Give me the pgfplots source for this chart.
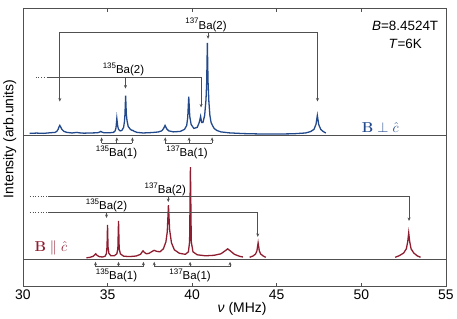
\documentclass[border=0pt]{standalone}
\usepackage[no-math]{fontspec}
\setmainfont{Liberation Sans}
\usepackage{pgfplots}
\pgfplotsset{compat=1.18}
\usetikzlibrary{arrows.meta}

\definecolor{specblue}{HTML}{22498C}
\definecolor{specred}{HTML}{8E1D30}
\definecolor{anno}{HTML}{505050}

% isotope label, e.g. ^{137}Ba(2)
\newcommand{\iso}[2]{\raisebox{0.45em}{\fontsize{8}{8}\selectfont #1}Ba(#2)}

\tikzset{
  ann/.style={draw=anno, line width=0.7pt},
  arr/.style={ann, -{Stealth[length=3.5pt,width=3pt]}},
  lab/.style={font=\fontsize{11.5}{13}\selectfont, inner sep=1pt},
}

\begin{document}
\begin{tikzpicture}
\begin{axis}[
    width=425pt, height=280pt, scale only axis,
    xmin=30, xmax=55, ymin=0, ymax=280,
    xtick={30,35,...,55}, ytick=\empty,
    tick align=inside, xtick pos=both, xticklabel pos=bottom,
    major tick length=4pt,
    tick style={anno, line width=0.8pt},
    axis line style={anno, line width=0.8pt},
    ticklabel style={font=\fontsize{14}{16}\selectfont},
    /pgf/number format/assume math mode=true,
    xlabel={\textit{ν} (MHz)},
    ylabel={Intensity (arb.units)},
    label style={font=\fontsize{14}{16}\selectfont},
    xlabel style={at={(axis description cs:0.518,-0.079)}, anchor=center},
    ylabel style={at={(axis description cs:-0.031,0.53)}, anchor=center},
    clip=false,
]

% baselines
\draw[ann] (30,152) -- (55,152);
\draw[ann] (30,27) -- (55,27);

% B perp c spectrum
\addplot[specblue, line width=1.3pt] coordinates {
(30.40,154.0) (30.80,154.3) (31.20,154.0) (31.60,154.6) (31.90,155.0)
(32.00,156.0) (32.08,158.0) (32.13,160.5) (32.18,162.0) (32.23,160.5)
(32.30,158.0) (32.42,156.0) (32.60,155.0) (32.90,154.4) (33.10,154.8)
(33.20,155.0) (33.30,154.6) (33.60,154.2) (34.00,154.4) (34.40,154.6)
(34.52,155.2) (34.60,156.0) (34.68,155.2) (34.80,154.6) (35.10,154.6)
(35.35,155.0) (35.45,156.5) (35.50,159.5) (35.55,169.0) (35.60,161.5)
(35.65,158.0) (35.75,156.5) (35.85,157.0) (35.95,160.0) (36.00,166.0)
(36.03,173.0) (36.07,192.0) (36.11,173.5) (36.15,167.0) (36.22,161.0)
(36.35,158.0) (36.45,157.0) (36.50,157.0) (36.58,156.0) (36.75,155.0)
(37.10,154.4) (37.60,154.8) (38.00,155.4) (38.20,156.5) (38.30,158.5)
(38.40,162.0) (38.50,158.5) (38.62,156.5) (38.90,155.5) (39.30,156.0)
(39.55,158.0) (39.68,162.0) (39.74,170.0) (39.80,191.0) (39.86,171.0)
(39.94,163.0) (40.10,159.0) (40.30,160.0) (40.40,164.0) (40.45,167.0)
(40.50,171.0) (40.56,165.0) (40.64,165.0) (40.74,172.0) (40.82,188.0)
(40.86,205.0) (40.90,245.0) (40.94,206.0) (40.99,186.0) (41.05,172.0)
(41.12,165.0) (41.20,162.0) (41.30,159.0) (41.45,157.0) (41.70,155.5)
(42.20,154.5) (43.00,153.8) (44.00,153.4) (45.00,153.3) (46.00,153.6)
(46.70,154.4) (47.00,155.8) (47.20,158.0) (47.32,163.0) (47.40,172.0)
(47.48,163.0) (47.60,158.0) (47.75,155.8) (47.90,154.4)
};

% B parallel c spectrum
\addplot[specred, line width=1.3pt] coordinates {
(33.75,29.0) (33.95,29.4) (34.15,30.5) (34.25,32.0) (34.30,33.0)
(34.38,31.5) (34.50,30.2) (34.70,29.8) (34.85,30.5) (34.93,33.0)
(34.97,40.0) (35.00,62.0) (35.03,40.0) (35.08,33.5) (35.20,31.0)
(35.40,31.0) (35.55,33.0) (35.61,38.0) (35.65,66.0) (35.69,38.0)
(35.76,33.0) (35.95,30.6) (36.30,30.2) (36.70,30.8) (36.95,32.5)
(37.05,35.0) (37.10,36.0) (37.17,34.5) (37.30,33.0) (37.45,33.5)
(37.60,35.0) (37.75,36.5) (37.90,35.5) (38.10,35.0) (38.30,38.0)
(38.45,45.0) (38.53,55.0) (38.60,82.0) (38.67,57.0) (38.78,44.0)
(38.95,37.0) (39.25,33.5) (39.60,32.5) (39.78,35.0) (39.85,45.0)
(39.90,120.0) (39.95,45.0) (40.05,35.0) (40.30,32.0) (40.80,31.0)
(41.30,31.5) (41.70,33.0) (41.95,36.0) (42.10,38.0) (42.25,36.0)
(42.50,32.5) (42.80,30.5) (43.00,29.8)
};
\addplot[specred, line width=1.3pt] coordinates {
(43.40,29.5) (43.60,30.8) (43.75,32.8) (43.83,36.0) (43.90,44.0)
(43.97,36.0) (44.05,32.8) (44.20,30.8) (44.35,29.5)
};
\addplot[specred, line width=1.3pt] coordinates {
(52.00,29.5) (52.25,31.2) (52.50,33.8) (52.66,38.0) (52.74,45.0)
(52.80,54.0) (52.86,45.0) (52.94,38.0) (53.10,33.8) (53.30,31.0)
(53.50,29.5)
};

% --- annotations, upper spectrum
\draw[ann, {Stealth[length=3.5pt,width=3pt]}-{Stealth[length=3.5pt,width=3pt]}]
  (32.18,186) |- (39.8,255) -| (47.41,186);
\draw[arr] (40.94,255) -- (40.94,249);
\node[lab] at (40.82,263) {\iso{137}{2}};

\draw[ann, dotted] (30.76,210) -- (31.47,210);
\draw[arr] (31.47,210) -| (40.53,180);
\draw[arr] (36.06,210) -- (36.06,199);
\node[lab] at (35.94,218) {\iso{135}{2}};

\draw[ann] (34.65,144) -- (36.47,144);
\draw[arr] (34.65,144) -- (34.65,150);
\draw[arr] (35.55,144) -- (35.55,150);
\draw[arr] (36.47,144) -- (36.47,150);
\node[lab] at (35.53,135) {\iso{135}{1}};
\draw[ann] (38.41,144) -- (41.18,144);
\draw[arr] (38.41,144) -- (38.41,150);
\draw[arr] (39.82,144) -- (39.82,150);
\draw[arr] (41.18,144) -- (41.18,150);
\node[lab] at (39.70,135) {\iso{137}{1}};

% --- annotations, lower spectrum
\draw[ann, dotted] (30.41,91) -- (31.47,91);
\draw[arr] (31.47,91) -| (52.82,66);
\draw[arr] (38.59,91) -- (38.59,85);
\node[lab] at (38.41,98) {\iso{137}{2}};

\draw[ann, dotted] (30.41,75) -- (31.47,75);
\draw[arr] (31.47,75) -| (43.88,50);
\draw[arr] (34.94,75) -- (34.94,69);
\node[lab] at (34.94,82) {\iso{135}{2}};

\draw[ann] (34.29,20) -- (37.12,20);
\draw[arr] (34.29,20) -- (34.29,25);
\draw[arr] (35.65,20) -- (35.65,25);
\draw[arr] (37.12,20) -- (37.12,25);
\node[lab] at (35.53,11) {\iso{135}{1}};
\draw[ann] (37.76,20) -- (42.24,20);
\draw[arr] (37.76,20) -- (37.76,25);
\draw[arr] (39.88,20) -- (39.88,25);
\draw[arr] (42.24,20) -- (42.24,25);
\node[lab] at (39.88,11) {\iso{137}{1}};

% --- text
\node[align=center, font=\fontsize{13.5}{19}\selectfont] at (52.59,253)
  {\textit{B}=8.4524T\\\textit{T}=6K};
\node[text=specblue, font=\fontsize{14}{16}\selectfont] at (51.12,160) {$\mathbf{B}\perp\hat{c}$};
\node[text=specred, font=\fontsize{14}{16}\selectfont] at (31.65,39) {$\mathbf{B}\parallel\hat{c}$};
\end{axis}
\path ([yshift=8pt]current axis.north west);
\end{tikzpicture}
\end{document}
